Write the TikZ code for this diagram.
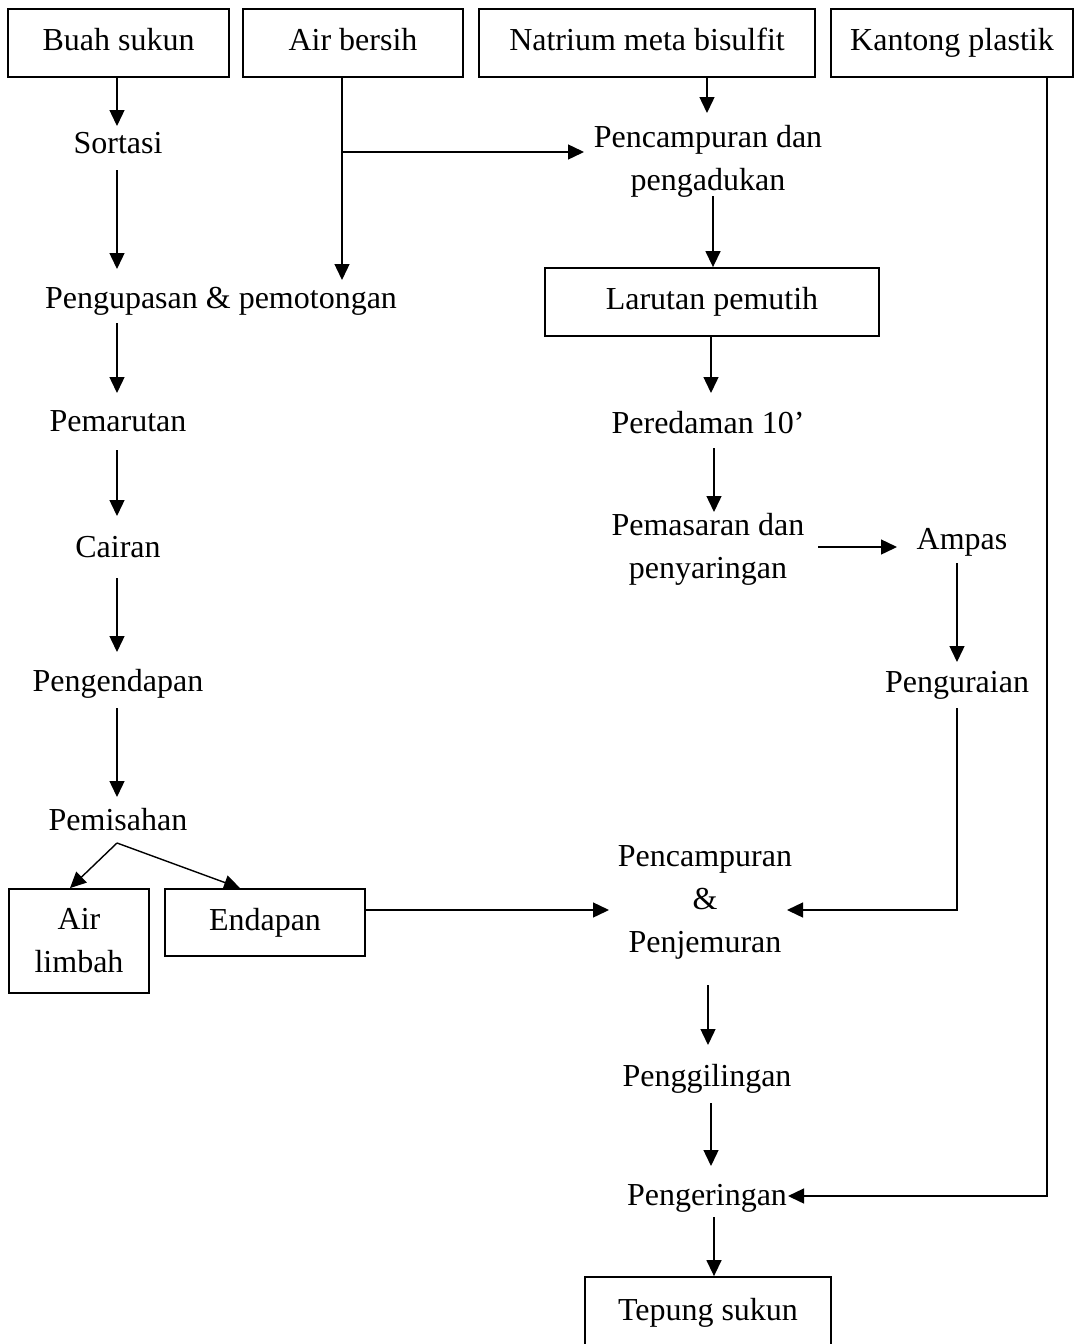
\documentclass[tikz,border=0pt]{standalone}
\usepackage{fontspec}
\setmainfont{Liberation Serif}
\usetikzlibrary{arrows.meta}
% stacked, centred lines whose baseline is that of the first line
\newcommand\mlines[1]{\begin{tabular}[t]{@{}c@{}}#1\end{tabular}}
\begin{document}
\begin{tikzpicture}[x=1pt,y=-1pt,
  txt/.style={font=\fontsize{32}{43}\selectfont, inner sep=0pt, anchor=base},
  box/.style={draw, line width=1.8pt, font=\fontsize{32}{43}\selectfont,
              inner sep=0pt, text height=22pt, text depth=7pt, minimum height=68pt},
  arr/.style={line width=1.4pt, -{Triangle[length=16pt,width=15pt]}}]
\fill[white] (0,0) rectangle (1074,1344);
\useasboundingbox (0,0) rectangle (1074,1344);

% inputs along the top
\node[box, minimum width=221pt] (buah)     at (118.5,43) {Buah sukun};
\node[box, minimum width=220pt] (air)      at (353,43)   {Air bersih};
\node[box, minimum width=336pt] (natrium)  at (647,43)   {Natrium meta bisulfit};
\node[box, minimum width=242pt] (kantong)  at (952,43)   {Kantong plastik};

% left column
\node[txt] (sortasi)     at (118,153.5) {Sortasi};
\node[txt] (pengupasan)  at (221,308.5) {Pengupasan \& pemotongan};
\node[txt] (pemarutan)   at (118,431.5) {Pemarutan};
\node[txt] (cairan)      at (118,557.5) {Cairan};
\node[txt] (pengendapan) at (118,691.5) {Pengendapan};
\node[txt] (pemisahan)   at (118,830.5) {Pemisahan};
\node[box, minimum width=140pt, minimum height=104pt, align=center, text height=, text depth=]
      (limbah) at (79,941) {Air\\limbah};
\node[box, minimum width=200pt, minimum height=67pt] (endapan) at (265,922.5) {Endapan};

% bleaching solution and right branch
\node[txt] (campur)     at (708,147.5) {\mlines{Pencampuran dan\\pengadukan}};
\node[box, minimum width=334pt] (larutan) at (712,302) {Larutan pemutih};
\node[txt] (peredaman)  at (708,433.5) {Peredaman 10’};
\node[txt] (pemasaran)  at (708,535.5) {\mlines{Pemasaran dan\\penyaringan}};
\node[txt] (ampas)      at (962,549.5) {Ampas};
\node[txt] (penguraian) at (957,692)   {Penguraian};

% final steps
\node[txt] (jemur)       at (705,866.5) {\mlines{Pencampuran\\\&\\Penjemuran}};
\node[txt] (penggiling)  at (707,1086.5) {Penggilingan};
\node[txt] (pengeringan) at (707,1205)   {Pengeringan};
\node[box, minimum width=246pt, minimum height=72pt] (tepung) at (708,1313) {Tepung sukun};

% left column connectors
\draw[arr] ([xshift=-1.5pt]buah.south) -- ([xshift=-1pt,yshift=27.5pt]sortasi.base);
\draw[arr] ([xshift=-1pt,yshift=-16.5pt]sortasi.base) -- ([xshift=-104pt,yshift=39.5pt]pengupasan.base);
\draw[arr] ([xshift=-11pt]air.south) -- ([xshift=121pt,yshift=28.5pt]pengupasan.base);
\draw[arr] ([xshift=-11pt,yshift=-74.1pt]air.south) -- ([xshift=-124pt,yshift=-4.5pt]campur.base);
\draw[arr] ([xshift=-104pt,yshift=-14.5pt]pengupasan.base) -- ([xshift=-1pt,yshift=38.5pt]pemarutan.base);
\draw[arr] ([xshift=-1pt,yshift=-18.5pt]pemarutan.base) -- ([xshift=-1pt,yshift=41.5pt]cairan.base);
\draw[arr] ([xshift=-1pt,yshift=-20.5pt]cairan.base) -- ([xshift=-1pt,yshift=39.5pt]pengendapan.base);
\draw[arr] ([xshift=-1pt,yshift=-16.5pt]pengendapan.base) -- ([xshift=-1pt,yshift=33.5pt]pemisahan.base);
\draw[arr] ([xshift=-1pt,yshift=-12.5pt]pemisahan.base) -- ([xshift=-9pt]limbah.north);
\draw[arr] ([xshift=-1pt,yshift=-12.5pt]pemisahan.base) -- ([xshift=-25pt]endapan.north);
\draw[arr] ([yshift=12.5pt]endapan.east) -- ([xshift=-96pt,yshift=-43.5pt]jemur.base);

% right branch connectors
\draw[arr] ([xshift=60pt]natrium.south) -- ([xshift=-1pt,yshift=34.5pt]campur.base);
\draw[arr] ([xshift=5pt,yshift=-48.5pt]campur.base) -- ([xshift=1pt]larutan.north);
\draw[arr] ([xshift=-1pt]larutan.south) -- ([xshift=3pt,yshift=40.5pt]peredaman.base);
\draw[arr] ([xshift=6pt,yshift=-14.5pt]peredaman.base) -- ([xshift=6pt,yshift=23.5pt]pemasaran.base);
\draw[arr] ([xshift=110pt,yshift=-11.5pt]pemasaran.base) -- ([xshift=-65pt,yshift=2.5pt]ampas.base);
\draw[arr] ([xshift=-5pt,yshift=-13.5pt]ampas.base) -- ([yshift=30pt]penguraian.base);
\draw[arr] ([yshift=-16pt]penguraian.base) |- ([xshift=82pt,yshift=-43.5pt]jemur.base);

% final connectors
\draw[arr] ([xshift=3pt,yshift=-118.5pt]jemur.base) -- ([xshift=1pt,yshift=41.5pt]penggiling.base);
\draw[arr] ([xshift=4pt,yshift=-16.5pt]penggiling.base) -- ([xshift=4pt,yshift=39pt]pengeringan.base);
\draw[arr] ([xshift=95pt]kantong.south) |- ([xshift=81pt,yshift=9pt]pengeringan.base);
\draw[arr] ([xshift=7pt,yshift=-12pt]pengeringan.base) -- ([xshift=6pt]tepung.north);
\end{tikzpicture}
\end{document}
